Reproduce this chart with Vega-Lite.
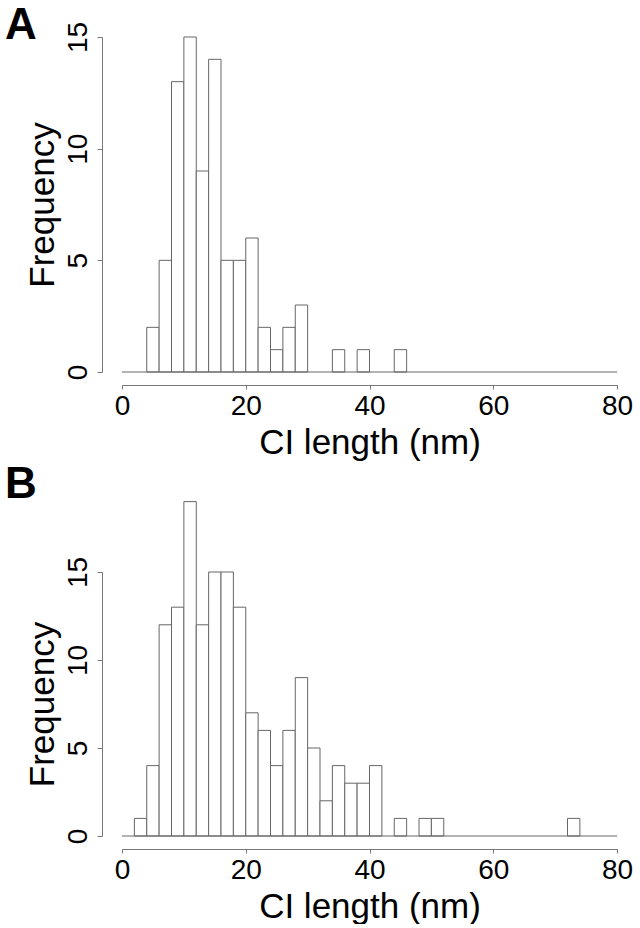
{
  "$schema": "https://vega.github.io/schema/vega-lite/v6.json",
  "background": "white",
  "padding": {"left": 5, "top": 4, "right": 5, "bottom": 0},
  "spacing": 3,
  "config": {
    "font": "Liberation Sans",
    "view": {"stroke": null},
    "axis": {
      "grid": false,
      "domainColor": "#777",
      "tickColor": "#777",
      "labelColor": "black",
      "labelFontSize": 28,
      "labelFlush": false,
      "labelOverlap": false,
      "titleColor": "black",
      "titleFontSize": 35,
      "titleFontWeight": "normal"
    },
    "title": {"fontSize": 44, "fontWeight": "bold", "color": "black", "anchor": "start", "frame": "bounds"}
  },
  "datasets": {
    "a": [
      {"start": 4, "end": 6, "count": 2},
      {"start": 6, "end": 8, "count": 5},
      {"start": 8, "end": 10, "count": 13},
      {"start": 10, "end": 12, "count": 15},
      {"start": 12, "end": 14, "count": 9},
      {"start": 14, "end": 16, "count": 14},
      {"start": 16, "end": 18, "count": 5},
      {"start": 18, "end": 20, "count": 5},
      {"start": 20, "end": 22, "count": 6},
      {"start": 22, "end": 24, "count": 2},
      {"start": 24, "end": 26, "count": 1},
      {"start": 26, "end": 28, "count": 2},
      {"start": 28, "end": 30, "count": 3},
      {"start": 34, "end": 36, "count": 1},
      {"start": 38, "end": 40, "count": 1},
      {"start": 44, "end": 46, "count": 1}
    ],
    "b": [
      {"start": 2, "end": 4, "count": 1},
      {"start": 4, "end": 6, "count": 4},
      {"start": 6, "end": 8, "count": 12},
      {"start": 8, "end": 10, "count": 13},
      {"start": 10, "end": 12, "count": 19},
      {"start": 12, "end": 14, "count": 12},
      {"start": 14, "end": 16, "count": 15},
      {"start": 16, "end": 18, "count": 15},
      {"start": 18, "end": 20, "count": 13},
      {"start": 20, "end": 22, "count": 7},
      {"start": 22, "end": 24, "count": 6},
      {"start": 24, "end": 26, "count": 4},
      {"start": 26, "end": 28, "count": 6},
      {"start": 28, "end": 30, "count": 9},
      {"start": 30, "end": 32, "count": 5},
      {"start": 32, "end": 34, "count": 2},
      {"start": 34, "end": 36, "count": 4},
      {"start": 36, "end": 38, "count": 3},
      {"start": 38, "end": 40, "count": 3},
      {"start": 40, "end": 42, "count": 4},
      {"start": 44, "end": 46, "count": 1},
      {"start": 48, "end": 50, "count": 1},
      {"start": 50, "end": 52, "count": 1},
      {"start": 72, "end": 74, "count": 1}
    ],
    "base": [{"from": 0, "to": 80, "level": 0}]
  },
  "vconcat": [
    {
      "title": {"text": "A", "dx": -20, "offset": -27},
      "width": 495,
      "height": 335,
      "layer": [
        {
          "data": {"name": "a"},
          "mark": {"type": "rect", "fill": "white", "stroke": "#666", "strokeWidth": 1},
          "encoding": {
            "x": {"field": "start", "type": "quantitative", "scale": {"domain": [0, 80], "nice": false},
              "axis": {"values": [0, 20, 40, 60, 80], "offset": 13, "tickSize": 4, "labelPadding": 3, "titlePadding": 5},
              "title": "CI length (nm)"},
            "x2": {"field": "end"},
            "y": {"field": "count", "type": "quantitative", "scale": {"domain": [0, 15], "nice": false},
              "axis": {"values": [0, 5, 10, 15], "offset": 20, "tickSize": 5, "labelAngle": -90, "labelAlign": "center", "labelBaseline": "alphabetic", "labelPadding": 11, "titlePadding": 4},
              "title": "Frequency"}
          }
        },
        {
          "data": {"name": "base"},
          "mark": {"type": "rule", "stroke": "#666", "strokeWidth": 1},
          "encoding": {
            "x": {"field": "from", "type": "quantitative"},
            "x2": {"field": "to"},
            "y": {"field": "level", "type": "quantitative"}
          }
        }
      ]
    },
    {
      "title": {"text": "B", "dx": -20, "offset": -6},
      "width": 495,
      "height": 264,
      "layer": [
        {
          "data": {"name": "b"},
          "mark": {"type": "rect", "fill": "white", "stroke": "#666", "strokeWidth": 1},
          "encoding": {
            "x": {"field": "start", "type": "quantitative", "scale": {"domain": [0, 80], "nice": false},
              "axis": {"values": [0, 20, 40, 60, 80], "offset": 13, "tickSize": 4, "labelPadding": 3, "titlePadding": 5},
              "title": "CI length (nm)"},
            "x2": {"field": "end"},
            "y": {"field": "count", "type": "quantitative", "scale": {"domain": [0, 15], "nice": false},
              "axis": {"values": [0, 5, 10, 15], "offset": 20, "tickSize": 5, "labelAngle": -90, "labelAlign": "center", "labelBaseline": "alphabetic", "labelPadding": 11, "titlePadding": 4},
              "title": "Frequency"}
          }
        },
        {
          "data": {"name": "base"},
          "mark": {"type": "rule", "stroke": "#666", "strokeWidth": 1},
          "encoding": {
            "x": {"field": "from", "type": "quantitative"},
            "x2": {"field": "to"},
            "y": {"field": "level", "type": "quantitative"}
          }
        }
      ]
    }
  ]
}
